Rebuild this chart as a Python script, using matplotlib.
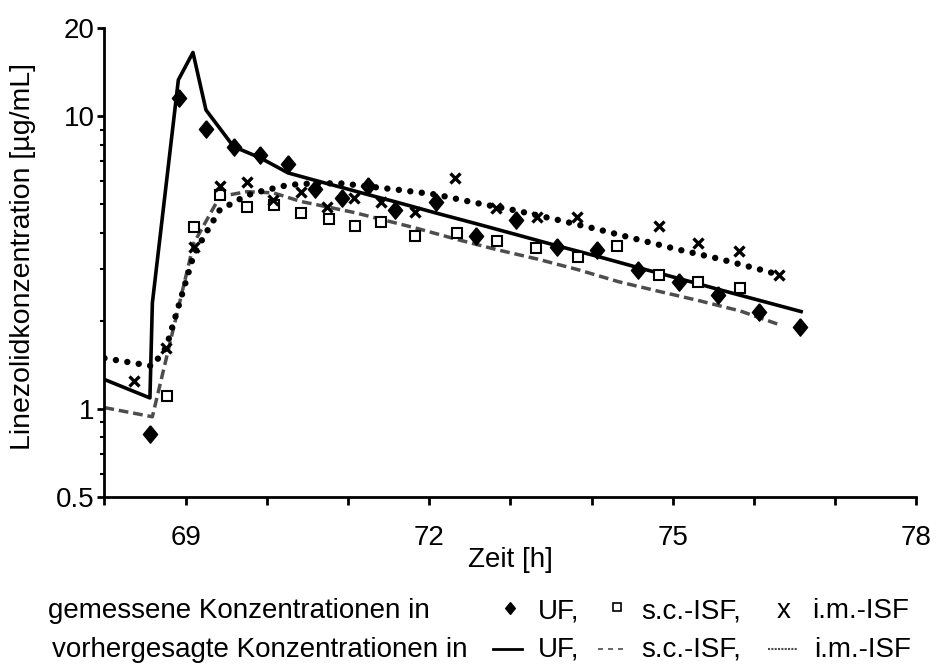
import matplotlib.pyplot as plt
from matplotlib.lines import Line2D

plt.rcParams['font.family'] = ['Liberation Sans', 'DejaVu Sans']

# gemessene Konzentrationen (Zeit [h], Konzentration [µg/mL])
t_uf = [68.56, 68.92, 69.25, 69.59, 69.92, 70.26, 70.59, 70.93, 71.25, 71.58,
        72.08, 72.58, 73.07, 73.57, 74.07, 74.57, 75.07, 75.56, 76.06, 76.56]
c_uf = [0.82, 11.5, 9.02, 7.83, 7.37, 6.87, 5.63, 5.27, 5.77, 4.77,
        5.11, 3.90, 4.42, 3.56, 3.50, 2.97, 2.72, 2.44, 2.15, 1.90]

t_sc = [68.77, 69.10, 69.42, 69.76, 70.09, 70.42, 70.76, 71.09, 71.41, 71.83,
        72.34, 72.83, 73.31, 73.83, 74.31, 74.83, 75.31, 75.83]
c_sc = [1.11, 4.19, 5.38, 4.91, 4.97, 4.66, 4.44, 4.22, 4.34, 3.91,
        3.98, 3.76, 3.54, 3.31, 3.60, 2.87, 2.72, 2.58]

t_im = [68.36, 68.76, 69.10, 69.42, 69.75, 70.08, 70.42, 70.74, 71.07, 71.41,
        71.83, 72.32, 72.82, 73.33, 73.82, 74.83, 75.31, 75.81, 76.31]
c_im = [1.25, 1.62, 3.58, 5.78, 5.97, 5.17, 5.52, 4.91, 5.24, 5.11,
        4.72, 6.17, 4.85, 4.52, 4.54, 4.22, 3.68, 3.46, 2.87]

# vorhergesagte Konzentrationen
tp_uf = [68.0, 68.56, 68.59, 68.91, 69.09, 69.25, 69.59, 69.92, 70.26, 70.59,
         70.93, 71.25, 71.58, 72.08, 72.58, 73.07, 73.57, 74.07, 74.57, 75.07,
         75.56, 76.06, 76.58]
cp_uf = [1.26, 1.09, 2.30, 13.3, 16.5, 10.5, 7.87, 7.20, 6.40, 6.04,
         5.70, 5.39, 5.10, 4.67, 4.29, 3.94, 3.61, 3.32, 3.04, 2.79,
         2.56, 2.35, 2.15]

tp_sc = [68.0, 68.59, 69.10, 69.42, 69.75, 70.08, 70.42, 70.74, 71.07, 71.41,
         71.83, 72.33, 72.83, 73.33, 73.83, 74.33, 74.83, 75.33, 75.83, 76.31]
cp_sc = [1.01, 0.94, 3.68, 5.31, 5.52, 5.47, 5.11, 4.90, 4.69, 4.44,
         4.15, 3.80, 3.50, 3.25, 2.99, 2.72, 2.52, 2.34, 2.16, 1.94]

tp_im = [68.0, 68.59, 68.76, 68.92, 69.10, 69.25, 69.42, 69.59, 69.75, 69.92,
         70.26, 70.59, 70.93, 71.25, 71.58, 72.08, 72.58, 73.07, 73.57, 74.07,
         74.57, 75.07, 75.56, 76.06, 76.31]
cp_im = [1.49, 1.40, 1.62, 2.28, 3.36, 3.99, 4.78, 5.07, 5.36, 5.53,
         5.82, 5.90, 5.89, 5.75, 5.62, 5.40, 5.05, 4.76, 4.43, 4.11,
         3.79, 3.50, 3.26, 3.00, 2.87]

yticks = [0.5, 1, 10, 20]
ytick_labels = ['0.5', '1', '10', '20']
xticks = [69, 72, 75, 78]

diamond = [(0, 1), (0.82, 0), (0, -1), (-0.82, 0), (0, 1)]

fig = plt.figure(figsize=(9.36, 6.69), dpi=100)
ax = fig.add_axes([0.1116, 0.2571, 0.8675, 0.701])

ax.plot(tp_uf, cp_uf, color='black', lw=2.6, zorder=2)
ax.plot(tp_sc, cp_sc, color='#4d4d4d', lw=2.5, ls=(0, (2.8, 1.4)), zorder=2)
ax.plot(tp_im, cp_im, color='black', lw=4.6, ls=(0, (0.01, 1.8)),
        dash_capstyle='round', zorder=2)

ax.plot(t_uf, c_uf, ls='none', marker=diamond, ms=12.5, color='black', zorder=3)
ax.plot(t_sc, c_sc, ls='none', marker='s', ms=6.5, mfc='white', mec='black',
        mew=1.5, zorder=3)
ax.plot(t_im, c_im, ls='none', marker='x', ms=7.5, color='black', mew=2.4,
        zorder=3)

ax.set_yscale('log')
ax.set_ylim(0.5, 20)
ax.set_xlim(68, 78)
ax.set_yticks(yticks)
ax.set_yticklabels(ytick_labels)
ax.set_yticks([0.6, 0.7, 0.8, 0.9, 2, 3, 4, 5, 6, 7, 8, 9], minor=True)
ax.yaxis.set_minor_formatter(plt.NullFormatter())
ax.set_xticks(xticks)
ax.set_xticks(range(68, 79), minor=True)

for s in ['top', 'right']:
    ax.spines[s].set_visible(False)
for s in ['left', 'bottom']:
    ax.spines[s].set_linewidth(2)

ax.tick_params(axis='both', which='major', labelsize=20, width=2, direction='out')
ax.tick_params(axis='y', which='major', length=5, pad=2)
ax.tick_params(axis='y', which='minor', length=3, width=1.5)
ax.tick_params(axis='x', which='both', length=6, width=2, pad=14)

ax.set_xlabel('Zeit [h]', fontsize=20, labelpad=-3)
fig.text(23 / 936, 1 - 257 / 669, 'Linezolidkonzentration [µg/mL]', fontsize=20.5,
         rotation=90, ha='center', va='center')

# Legende als Textzeilen mit Symbolen
lg = fig.add_axes([0, 0, 1, 1])
lg.set_xlim(0, 936)
lg.set_ylim(669, 0)
lg.axis('off')

y1, y2 = 611, 650
fs = 20
lg.text(48, y1, 'gemessene Konzentrationen in', fontsize=fs, va='center')
lg.plot([510], [y1 - 3], marker=diamond, ms=8.5, color='black', ls='none')
lg.text(538, y1, 'UF,', fontsize=fs, va='center')
lg.plot([617], [y1 - 4], marker='s', ms=5.5, mfc='white', mec='black', mew=1.2, ls='none')
lg.text(641, y1, 's.c.-ISF,', fontsize=fs, va='center')
lg.text(784, y1, 'x', fontsize=fs, va='center', ha='center')
lg.text(812, y1, 'i.m.-ISF', fontsize=fs, va='center')

lg.text(52, y2, 'vorhergesagte Konzentrationen in', fontsize=fs, va='center')
lg.add_line(Line2D([493, 522], [y2 - 1, y2 - 1], color='black', lw=2))
lg.text(538, y2, 'UF,', fontsize=fs, va='center')
lg.add_line(Line2D([598, 628], [y2 - 1, y2 - 1], color='#4d4d4d', lw=1.2,
                   ls=(0, (3, 3))))
lg.text(641, y2, 's.c.-ISF,', fontsize=fs, va='center')
lg.add_line(Line2D([768, 798], [y2 - 1, y2 - 1], color='#4d4d4d', lw=1.5,
                   ls=(0, (1, 0.6))))
lg.text(814, y2, 'i.m.-ISF', fontsize=fs, va='center')

fig.savefig('out.png', dpi=100)
